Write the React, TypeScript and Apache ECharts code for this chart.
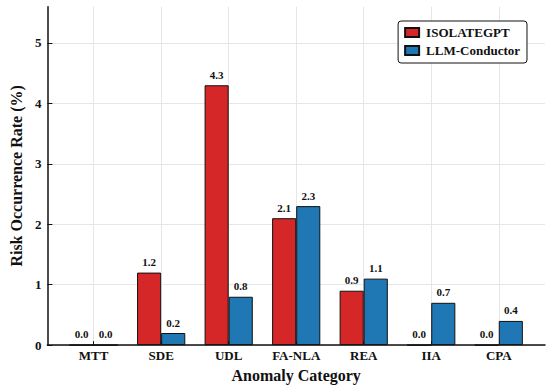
import React, { useEffect, useRef } from "react";
import * as echarts from "echarts";

const categories = ["MTT", "SDE", "UDL", "FA-NLA", "REA", "IIA", "CPA"];
const isolateGptValues = [0.0, 1.2, 4.3, 2.1, 0.9, 0.0, 0.0];
const llmConductorValues = [0.0, 0.2, 0.8, 2.3, 1.1, 0.7, 0.4];
const yTicks = [0, 1, 2, 3, 4, 5];
const seriesNames = ["ISOLATEGPT", "LLM-Conductor"];

const FONT = '"Liberation Serif", "Times New Roman", serif';

export default function App() {
  const ref = useRef<HTMLDivElement>(null);

  useEffect(() => {
    if (!ref.current) return;
    const chart = echarts.init(ref.current, undefined, { renderer: "svg" });
    const xIdx = categories.map((_, i) => i);
    const labelCfg = {
      show: true,
      position: "top" as const,
      distance: 5,
      fontFamily: FONT,
      fontWeight: "bold" as const,
      fontSize: 11,
      color: "#111",
      formatter: (p: any) => Number(p.value[1]).toFixed(1),
    };
    chart.setOption({
      animation: false,
      backgroundColor: "#ffffff",
      grid: { left: 37, right: 5, top: 6.7, bottom: 41.3, containLabel: false },
      legend: {
        orient: "vertical",
        right: 23,
        top: 21,
        data: seriesNames,
        backgroundColor: "#ffffff",
        borderColor: "#111",
        borderWidth: 1,
        borderRadius: 3,
        padding: [5, 7, 6, 6],
        itemWidth: 14,
        itemHeight: 9,
        itemGap: 5,
        icon: "rect",
        textStyle: {
          fontFamily: FONT,
          fontWeight: "bold",
          fontSize: 13,
          color: "#111",
          lineHeight: 13,
          padding: [0, 0, 0, 2],
        },
      },
      xAxis: {
        type: "value",
        min: -0.685,
        max: 6.685,
        name: "Anomaly Category",
        nameLocation: "middle",
        nameGap: 21,
        nameTextStyle: { fontFamily: FONT, fontWeight: "bold", fontSize: 16, color: "#111" },
        axisLine: { show: true, onZero: false, lineStyle: { color: "#111", width: 1.5 } },
        axisTick: { show: true, inside: true, length: 4, customValues: xIdx, lineStyle: { color: "#111" } },
        axisLabel: {
          customValues: xIdx,
          margin: 4,
          fontFamily: FONT,
          fontWeight: "bold",
          fontSize: 13,
          color: "#111",
          formatter: (v: number) => categories[Math.round(v)] ?? "",
        },
        splitLine: { show: true, lineStyle: { color: "#e6e6e6", width: 1 } },
      },
      yAxis: {
        type: "value",
        min: 0,
        max: 5.6,
        name: "Risk Occurrence Rate (%)",
        nameLocation: "middle",
        nameGap: 20,
        nameTextStyle: { fontFamily: FONT, fontWeight: "bold", fontSize: 16, color: "#111" },
        axisLine: { show: true, onZero: false, lineStyle: { color: "#111", width: 1.5 } },
        axisTick: { show: true, inside: true, length: 5, customValues: yTicks, lineStyle: { color: "#111" } },
        axisLabel: {
          customValues: yTicks,
          margin: 6,
          fontFamily: FONT,
          fontWeight: "bold",
          fontSize: 13,
          color: "#111",
        },
        splitLine: { show: true, lineStyle: { color: "#e6e6e6", width: 1 } },
      },
      series: [
        {
          name: seriesNames[0],
          type: "bar",
          barWidth: 24.1,
          barGap: "0%",
          data: isolateGptValues.map((v, i) => [i, v]),
          itemStyle: { color: "#d62728", borderColor: "#111", borderWidth: 1 },
          label: labelCfg,
        },
        {
          name: seriesNames[1],
          type: "bar",
          barWidth: 24.1,
          barGap: "0%",
          data: llmConductorValues.map((v, i) => [i, v]),
          itemStyle: { color: "#1f77b4", borderColor: "#111", borderWidth: 1 },
          label: labelCfg,
        },
      ],
    });
    return () => chart.dispose();
  }, []);

  return (
    <div
      ref={ref}
      style={{ position: "fixed", left: 0, top: 0, width: 550, height: 388, background: "#fff" }}
    />
  );
}
